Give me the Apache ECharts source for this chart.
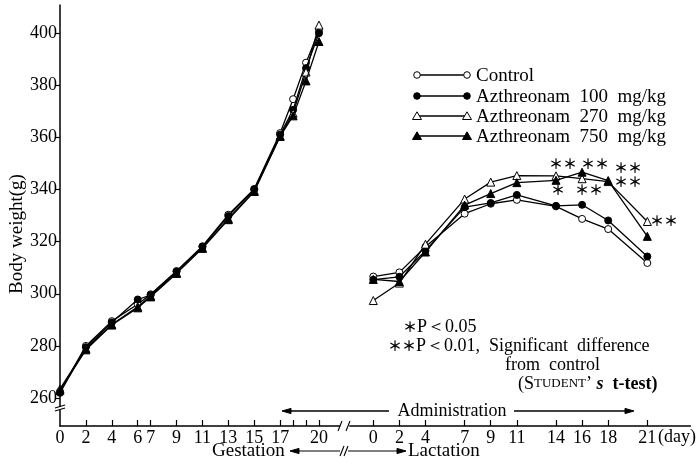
<!DOCTYPE html>
<html>
<head>
<meta charset="utf-8">
<script src="https://cdn.jsdelivr.net/npm/echarts@6/dist/echarts.min.js"></script>
<style>html,body{margin:0;padding:0;background:#fff}#c{width:698px;height:462px}</style>
</head>
<body>
<div id="c"></div>
<script>
// ---- data ----
const gestDays = [0, 2, 4, 6, 7, 9, 11, 13, 15, 17, 18, 19, 20];
const gestControl = [262.5, 280, 289.5, 296, 299.8, 308.7, 318.2, 330.3, 340.2, 361.6, 374.6, 388.6, 400.9];
const gest100 = [262, 279.5, 289, 297.8, 299.5, 308.5, 318, 329.8, 340, 361, 370.5, 386.5, 399.9];
const gest270 = [263.5, 279, 288.2, 295, 299.2, 308, 317.6, 328.8, 339.5, 360.5, 369.2, 385, 403];
const gest750 = [263, 278.5, 288, 294.6, 298.8, 307.8, 317.4, 328.4, 339.2, 360.3, 368.2, 381.6, 396.7];

const lactDays = [0, 2, 4, 7, 9, 11, 14, 16, 18, 21];
const lactControl = [306.6, 308.2, 318, 330.7, 334.5, 336, 333.5, 328.7, 324.8, 311.8];
const lact100 = [305.4, 306.5, 316.5, 333.2, 334.8, 337.9, 333.7, 334.1, 328.1, 314.3];
const lact270 = [297.4, 304.1, 319, 336.3, 342.8, 345.3, 345.2, 344.1, 343, 327.7];
const lact750 = [305.5, 304.7, 316, 334, 338.4, 342.6, 343.5, 346.6, 343.4, 322];

const yTickValues = [260, 280, 300, 320, 340, 360, 380, 400];
const gestLabelDays = [0, 2, 4, 6, 7, 9, 11, 13, 15, 17, 20];
const gestTickDays = [2, 4, 6, 7, 9, 11, 13, 15, 17, 18, 19, 20];
const lactLabelDays = [0, 2, 4, 7, 9, 11, 14, 16, 18, 21];

const seriesNames = ['Control', 'Azthreonam  100  mg/kg', 'Azthreonam  270  mg/kg', 'Azthreonam  750  mg/kg'];

// ---- styling ----
const SERIF = '"Liberation Serif", "DejaVu Serif", serif';
const styles = [
  {symbol: 'circle', fill: '#fff', size: 7},
  {symbol: 'circle', fill: '#000', size: 7},
  {symbol: 'triangle', fill: '#fff', size: 8},
  {symbol: 'triangle', fill: '#000', size: 8}
];

function pairs(xs, ys) { return xs.map((x, i) => [x, ys[i]]); }

function mkSeries(name, xs, ys, idx, grid) {
  const s = styles[idx];
  return {
    name: name, type: 'line', xAxisIndex: grid, yAxisIndex: grid,
    data: pairs(xs, ys), symbol: s.symbol, symbolSize: s.size,
    itemStyle: {color: s.fill, borderColor: '#000', borderWidth: 1},
    lineStyle: {color: '#000', width: 1.3},
    z: 3 + idx
  };
}

const series = [];
[gestControl, gest100, gest270, gest750].forEach((d, i) => series.push(mkSeries(seriesNames[i], gestDays, d, i, 0)));
[lactControl, lact100, lact270, lact750].forEach((d, i) => series.push(mkSeries(seriesNames[i], lactDays, d, i, 1)));

function xAxisCfg(grid, min, max, labels, ticks) {
  return {
    gridIndex: grid, type: 'value', min: min, max: max,
    axisLine: {onZero: false, lineStyle: {color: '#000', width: 1.5}},
    axisTick: {inside: true, length: 6, customValues: ticks, lineStyle: {color: '#000', width: 1.2}},
    axisLabel: {customValues: labels, margin: 3, color: '#000', fontFamily: SERIF, fontSize: 18},
    splitLine: {show: false}
  };
}
function yAxisCfg(grid, show) {
  return {
    gridIndex: grid, type: 'value', min: 249.3, max: 410.7, show: show,
    axisLine: {show: true, onZero: false, lineStyle: {color: '#000', width: 1.5}},
    axisTick: {show: true, inside: false, length: 5, customValues: yTickValues, lineStyle: {color: '#000', width: 1.2}},
    axisLabel: {customValues: yTickValues, margin: 3, color: '#000', fontFamily: SERIF, fontSize: 18},
    splitLine: {show: false}
  };
}

// ---- graphic helpers (annotations / legend) ----
const G = [];
function text(str, x, y, opt) {
  opt = opt || {};
  G.push({type: 'text', z: 20, style: Object.assign({
    text: str, x: x, y: y, fill: '#000',
    font: (opt.weight ? opt.weight + ' ' : '') + (opt.size || 18) + 'px ' + (opt.family || SERIF),
    textAlign: opt.align || 'left', textVerticalAlign: 'middle'
  }, opt.extra || {})});
}
function line(pts, w) {
  G.push({type: 'polyline', z: 20, shape: {points: pts}, style: {stroke: '#000', lineWidth: w || 1.2, fill: null}});
}
function poly(pts, fill) {
  G.push({type: 'polygon', z: 21, shape: {points: pts}, style: {fill: fill, stroke: '#000', lineWidth: 1}});
}
function sym(idx, cx, cy) {
  const s = styles[idx];
  if (s.symbol === 'circle') {
    G.push({type: 'circle', z: 21, shape: {cx: cx, cy: cy, r: 3.3}, style: {fill: s.fill, stroke: '#000', lineWidth: 1}});
  } else {
    poly([[cx, cy - 4.2], [cx + 4.5, cy + 3.5], [cx - 4.5, cy + 3.5]], s.fill);
  }
}
function arrowHead(x, y, dir) {
  poly([[x, y], [x - dir * 9, y - 2.6], [x - dir * 9, y + 2.6]], '#000');
}
function whiteRect(x, y, w, h) {
  G.push({type: 'rect', z: 19, shape: {x: x, y: y, width: w, height: h}, style: {fill: '#fff', stroke: null}});
}

// legend
const legendRows = [75, 96, 116, 136];
legendRows.forEach((y, i) => {
  line([[417, y], [467, y]], 1.3);
  sym(i, 417, y);
  sym(i, 467, y);
  text(seriesNames[i], 476, y + 1, {size: 19});
});

// significance marks
const AST = '"Noto Sans CJK JP", "DejaVu Sans", sans-serif';
const astOpt = {size: 14, family: AST, align: 'center', weight: 'bold'};
text('＊＊', 563, 164, astOpt);
text('＊＊', 595, 164, astOpt);
text('＊＊', 628, 168, astOpt);
text('＊＊', 628, 182, astOpt);
text('＊', 558, 190, astOpt);
text('＊＊', 589, 190, astOpt);
text('＊＊', 664, 221, astOpt);

// footnote
G.push({type: 'text', z: 20, style: {
  text: '{a|＊}{b|P＜0.05}', x: 403, y: 327, textVerticalAlign: 'middle', fill: '#000',
  rich: {a: {font: 'bold 14px ' + AST, fill: '#000'}, b: {font: '18px ' + SERIF, fill: '#000'}}
}});
G.push({type: 'text', z: 20, style: {
  text: '{a|＊＊}{b|P＜0.01,  Significant  difference}', x: 388, y: 346, textVerticalAlign: 'middle', fill: '#000',
  rich: {a: {font: 'bold 14px ' + AST, fill: '#000'}, b: {font: '18px ' + SERIF, fill: '#000'}}
}});
text('from  control', 505, 365);
G.push({type: 'text', z: 20, style: {
  text: '{b|(S}{s|TUDENT}{b|\u2019 }{i|s}{t|  t-test)}', x: 518, y: 384, textVerticalAlign: 'middle', fill: '#000',
  rich: {
    b: {font: '18px ' + SERIF, fill: '#000'},
    s: {font: '13px ' + SERIF, fill: '#000'},
    i: {font: 'italic bold 18px ' + SERIF, fill: '#000'},
    t: {font: 'bold 18px ' + SERIF, fill: '#000'}
  }
}});

// Administration arrow
line([[284, 411], [389, 411]], 1.3);
arrowHead(282, 411, -1);
text('Administration', 452, 411, {align: 'center'});
line([[514, 411], [626, 411]], 1.3);
arrowHead(634, 411, 1);

// Gestation <-> Lactation
text('Gestation', 212, 451, {size: 19});
line([[292, 451], [340, 451]], 1.2);
arrowHead(290, 451, -1);
line([[348, 451], [398, 451]], 1.2);
arrowHead(406, 451, 1);
line([[340, 456], [344, 446]], 1.1);
line([[344, 456], [348, 446]], 1.1);
text('Lactation', 408, 451, {size: 19});

// (day)
text('(day)', 658, 437);

// axis breaks
whiteRect(340.5, 424, 8.5, 4);
line([[338, 431], [342, 421]], 1.1);
line([[346, 431], [350, 421]], 1.1);
whiteRect(57, 407, 6, 3);
line([[55, 408], [65, 405]], 1.1);
line([[55, 411], [65, 408]], 1.1);

// y axis name
G.push({type: 'text', z: 20, x: 17, y: 234, rotation: Math.PI / 2, style: {
  text: 'Body weight(g)', x: 0, y: 0, fill: '#000', font: '19px ' + SERIF,
  textAlign: 'center', textVerticalAlign: 'middle'
}});

const option = {
  animation: false,
  backgroundColor: '#fff',
  grid: [
    {left: 60, top: 5, width: 279.7, height: 421},
    {left: 349.8, top: 5, width: 340.6, height: 421}
  ],
  xAxis: [
    xAxisCfg(0, 0, 21.6, gestLabelDays, gestTickDays),
    xAxisCfg(1, -1.8, 24.3, lactLabelDays, lactLabelDays)
  ],
  yAxis: [yAxisCfg(0, true), yAxisCfg(1, false)],
  series: series,
  graphic: G
};

const chart = echarts.init(document.getElementById('c'), null, {renderer: 'canvas'});
chart.setOption(option);
</script>
</body>
</html>
